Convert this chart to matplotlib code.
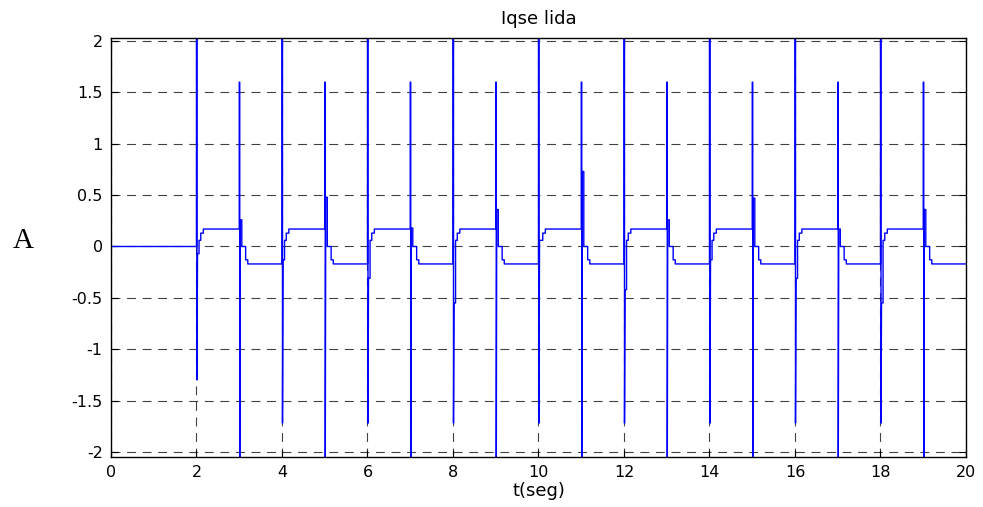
"""
    Iqse lida: corriente con conmutaciones cada segundo entre 2 y 19 s
"""
import matplotlib
matplotlib.use('Agg')
import matplotlib.pyplot as plt

# Instantes de conmutación (s)
t_conm = [2, 3, 4, 5, 6, 7, 8, 9, 10, 11, 12, 13, 14, 15, 16, 17, 18, 19]
# Pico positivo y negativo de cada conmutación (los que salen del eje se recortan)
pico_sup = [2.3, 1.6, 2.3, 1.6, 2.3, 1.6, 2.3, 1.6, 2.3, 1.6, 2.3, 1.6, 2.3, 1.6, 2.3, 1.6, 2.3, 1.6]
pico_inf = [-1.30, -2.3, -1.72, -2.3, -1.72, -2.3, -1.72, -2.3, -1.72, -2.3, -1.72, -2.3, -1.72, -2.3, -1.72, -2.3, -1.72, -2.3]
# Valor justo después del pico
rebote = [-0.07, 0.26, -0.13, 0.48, -0.31, 0.18, -0.55, 0.36, 0.06, 0.73, -0.42, 0.26, -0.13, 0.47, -0.31, 0.17, -0.55, 0.36]
# Escalones de subida (tras t par) y de bajada (tras t impar)
subida_dt = [0.06, 0.10, 0.16]
subida_val = [0.06, 0.13, 0.17]
bajada_dt = [0.06, 0.15, 0.20]
bajada_val = [0.0, -0.13, -0.17]
t_fin = 20

# Construcción de la señal
t = [0]
y = [0]
nivel = 0
for i, tc in enumerate(t_conm):
    t += [tc, tc, tc + 0.012, tc + 0.012, tc + 0.024]
    y += [nivel, pico_sup[i], pico_sup[i], pico_inf[i], rebote[i]]
    if i % 2 == 0:
        dts, vals = subida_dt, subida_val
    else:
        dts, vals = bajada_dt, bajada_val
    prev = rebote[i]
    for dt, v in zip(dts, vals):
        t += [tc + dt, tc + dt]
        y += [prev, v]
        prev = v
    nivel = vals[-1]
t.append(t_fin)
y.append(nivel)

fig = plt.figure(figsize=(9.83, 5.07), dpi=100)
ax = fig.add_axes([0.1129, 0.0986, 0.8698, 0.8264])
ax.plot(t, y, color='#0000ff', linewidth=1.0)

ax.set_xlim(0, 20)
ax.set_ylim(-2.05, 2.03)
ax.set_xticks(range(0, 21, 2))
ax.set_yticks([-2, -1.5, -1, -0.5, 0, 0.5, 1, 1.5, 2])
ax.set_yticklabels(['-2', '-1.5', '-1', '-0.5', '0', '0.5', '1', '1.5', '2'])
ax.grid(True, color='black', linestyle=(0, (8, 6)), linewidth=0.8, alpha=0.75)
ax.tick_params(direction='in', length=5, top=True, right=True, labelsize=11.5,
               width=0.8, pad=6)
for lab in ax.get_xticklabels() + ax.get_yticklabels():
    lab.set_family('DejaVu Sans')
for s in ax.spines.values():
    s.set_linewidth(1.0)

ax.set_title('Iqse lida', fontsize=13, family='DejaVu Sans', pad=10)
ax.set_xlabel('t(seg)', fontsize=13, family='DejaVu Sans', labelpad=1)
fig.text(0.0235, 0.525, 'A', fontsize=21, family='Liberation Serif',
         ha='center', va='center')

plt.savefig('out.png', dpi=100)
